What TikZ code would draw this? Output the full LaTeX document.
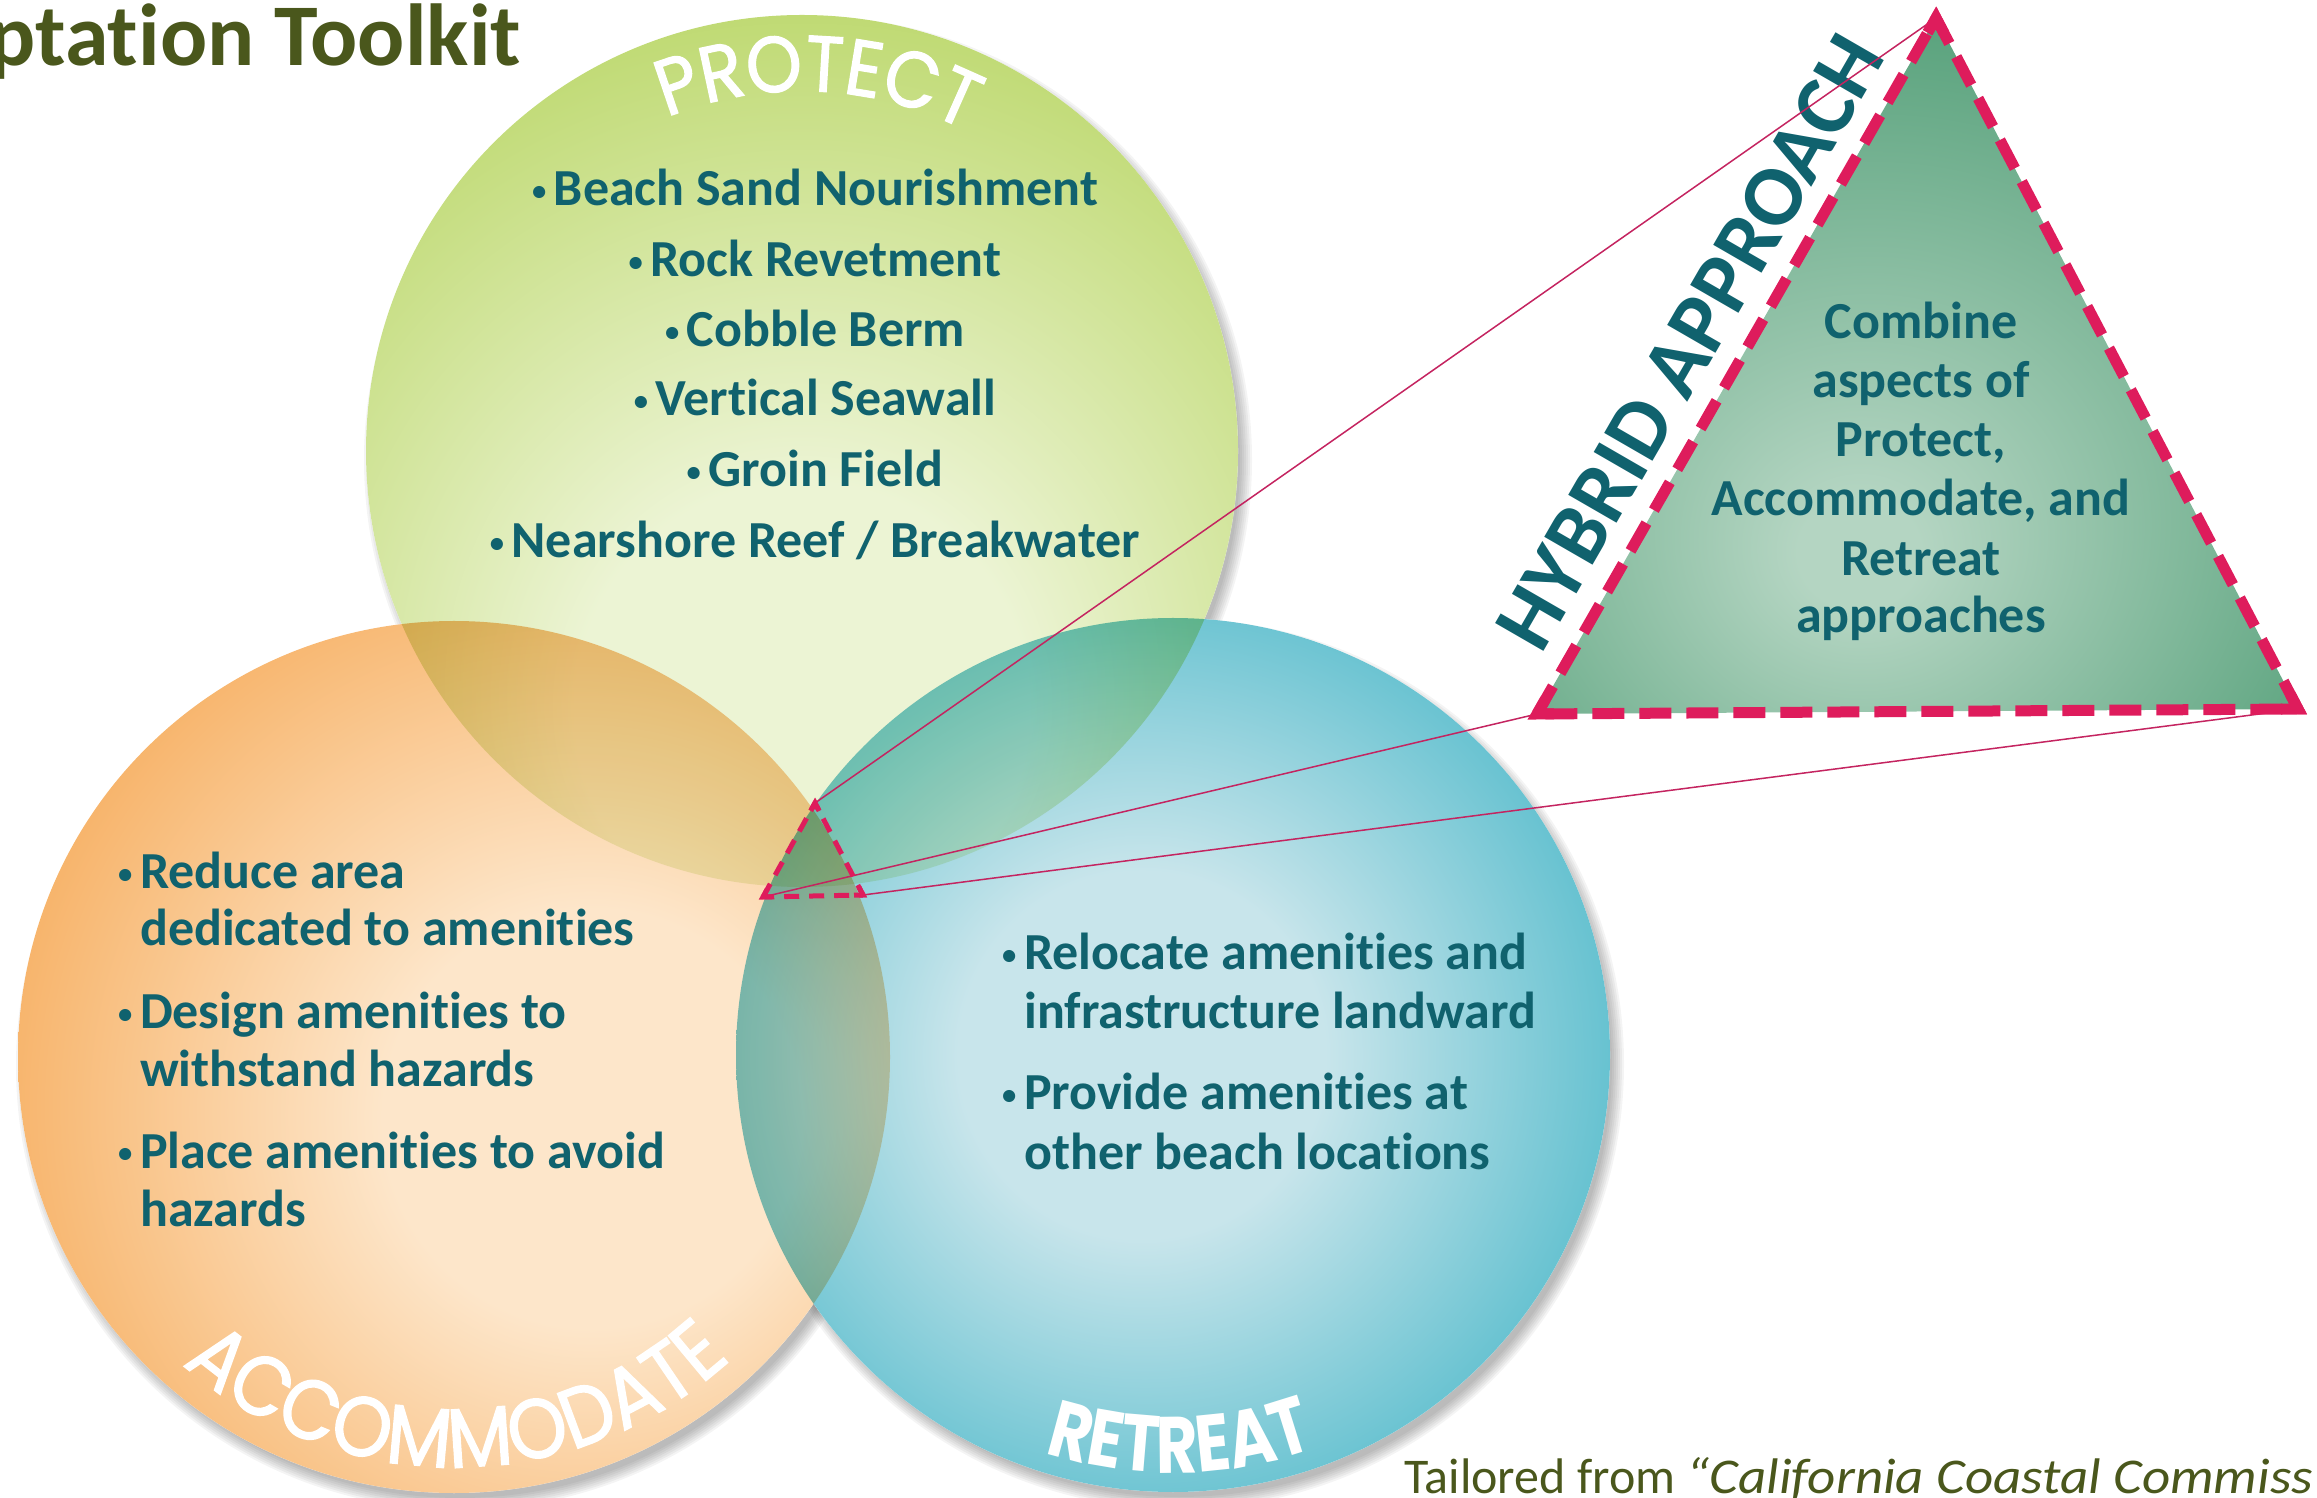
\documentclass[tikz,border=0pt]{standalone}
\usepackage{fontspec}
\setmainfont{Carlito}[Ligatures=NoCommon]
\newfontfamily\labfont{Poppins}[FakeStretch=0.9, FakeBold=1.6]
\newfontfamily\retfont{Poppins}[FakeStretch=0.8]
\usetikzlibrary{calc,decorations.text}

\definecolor{txtTeal}{RGB}{16,98,110}
\definecolor{titleOlive}{RGB}{74,87,28}
\definecolor{gOut}{RGB}{178,210,86}
\definecolor{gIn}{RGB}{236,244,212}
\definecolor{oOut}{RGB}{246,170,88}
\definecolor{oIn}{RGB}{253,230,202}
\definecolor{cOut}{RGB}{64,180,198}
\definecolor{cIn}{RGB}{200,229,235}
\definecolor{tOut}{RGB}{78,156,116}
\definecolor{tIn}{RGB}{180,213,194}
\definecolor{crim}{RGB}{222,28,92}
\definecolor{connC}{RGB}{196,36,96}

% circle edge corresponds to about 35bp in these shadings
\pgfdeclareradialshading{shG}{\pgfpoint{0bp}{-17bp}}{color(0bp)=(gIn); color(13bp)=(gIn); color(43bp)=(gOut); color(100bp)=(gOut)}
\pgfdeclareradialshading{shO}{\pgfpoint{9bp}{-4bp}}{color(0bp)=(oIn); color(12bp)=(oIn); color(36bp)=(oOut); color(100bp)=(oOut)}
\pgfdeclareradialshading{shC}{\pgfpoint{-2bp}{0bp}}{color(0bp)=(cIn); color(10.5bp)=(cIn); color(33bp)=(cOut); color(100bp)=(cOut)}
\pgfdeclareradialshading{shT}{\pgfpoint{-4bp}{-14bp}}{color(0bp)=(tIn); color(4bp)=(tIn); color(38bp)=(tOut); color(100bp)=(tOut)}

\newcommand{\bul}{\makebox[0.42em][l]{\raisebox{0.1em}{\scalebox{0.55}{\textbullet}}}}

\tikzset{
  body/.style={font=\fontsize{52}{60}\selectfont\bfseries, text=txtTeal, inner sep=0pt},
  conn/.style={draw=connC, line width=1.5pt},
  bigdash/.style={draw=crim, line width=11pt, dash pattern=on 32pt off 15pt},
  smalldash/.style={draw=crim, line width=5pt, dash pattern=on 15pt off 10pt},
  bigcorner/.style={draw=crim, line width=11pt, line join=miter, miter limit=10},
  smallcorner/.style={draw=crim, line width=5pt, line join=miter, miter limit=10},
}

\begin{document}
\begin{tikzpicture}[x=1pt,y=1pt]
\useasboundingbox (0,0) rectangle (2317,1497);
\clip (0,0) rectangle (2317,1497);

\coordinate (P) at (802,1046);
\coordinate (A) at (454,440);
\coordinate (R) at (1173,442);

% shadows
\foreach \c/\r in {P/436, A/436, R/437}{
  \foreach \k in {0,...,6}{
    \fill[black, opacity=0.045] ($(\c)+(6,-9)$) circle[radius={\r+8-2*\k}];
  }
}
% white base
\fill[white] (P) circle[radius=436];
\fill[white] (A) circle[radius=436];
\fill[white] (R) circle[radius=437];
% circles, multiplied
\begin{scope}[blend group=multiply]
\shade[shading=shG] (P) circle[radius=436];
\shade[shading=shO] (A) circle[radius=436];
\shade[shading=shC] (R) circle[radius=437];
\end{scope}

% circle labels
\path[decorate, decoration={text along path, text={|\labfont\fontsize{79}{80}\selectfont|PROTECT}, text align=center, text color=white}]
  ($(P)+(135:360)$) arc[start angle=135, end angle=40, radius=360];
\path[decorate, decoration={text along path, text={|\labfont\fontsize{84}{86}\selectfont|ACCOMMODATE}, text align=center, text color=white}]
  ($(A)+(215:410)$) arc[start angle=215, end angle=326, radius=410];
\path[decorate, decoration={text along path, text={|\retfont\bfseries\fontsize{80}{82}\selectfont|RETREAT}, text align=center, text color=white}]
  ($(R)+(236:418)$) arc[start angle=236, end angle=306, radius=418];

% protect items
\node[body, anchor=base] (p1) at (815,1291) {\bul Beach Sand Nourishment};
\node[body, anchor=base] (p2) at (815,1220) {\bul Rock Revetment};
\node[body, anchor=base] (p3) at (815,1150) {\bul Cobble Berm};
\node[body, anchor=base] (p4) at (815,1081) {\bul Vertical Seawall};
\node[body, anchor=base] (p5) at (815,1010) {\bul Groin Field};
\node[body, anchor=base] (p6) at (815,939) {\bul Nearshore Reef / Breakwater};

% accommodate items
\node[body, anchor=base west] (a1) at (118,608) {\bul Reduce area};
\node[body, anchor=base west] (a2) at (140,551) {dedicated to amenities};
\node[body, anchor=base west] (a3) at (118,468) {\bul Design amenities to};
\node[body, anchor=base west] (a4) at (140,410) {withstand hazards};
\node[body, anchor=base west] (a5) at (118,329) {\bul Place amenities to avoid};
\node[body, anchor=base west] (a6) at (140,271) {hazards};

% retreat items
\node[body, anchor=base west] (r1) at (1002,527) {\bul Relocate amenities and};
\node[body, anchor=base west] (r2) at (1024,468) {infrastructure landward};
\node[body, anchor=base west] (r3) at (1002,387) {\bul Provide amenities at};
\node[body, anchor=base west] (r4) at (1024,327) {other beach locations};

% hybrid triangle
\coordinate (st) at (815,694);
\coordinate (sl) at (763,600);
\coordinate (sr) at (863,602);
\coordinate (bt) at (1936,1479);
\coordinate (bl) at (1537,783);
\coordinate (br) at (2298,788);

\shade[shading=shT] (bl) -- (bt) -- (br) -- cycle;

\node[body, anchor=base] (h1) at (1921,1158) {Combine};
\node[body, anchor=base] (h2) at (1921,1099) {aspects of};
\node[body, anchor=base] (h3) at (1921,1040) {Protect,};
\node[body, anchor=base] (h4) at (1921,981) {Accommodate, and};
\node[body, anchor=base] (h5) at (1921,921) {Retreat};
\node[body, anchor=base] (h6) at (1921,864) {approaches};

\node[font=\fontsize{86}{90}\selectfont\bfseries, text=txtTeal, rotate=60, inner sep=0pt] (hyb) at (1690,1155) {HYBRID APPROACH};

% connectors
\draw[conn] (st) -- (bt);
\draw[conn] (sl) -- (bl);
\draw[conn] (sr) -- (br);

% dashed triangles
\draw[bigdash] (bl) -- (bt) -- (br) -- cycle;
\draw[bigcorner] ($(bt)!17pt!(bl)$) -- (bt) -- ($(bt)!17pt!(br)$);
\draw[bigcorner] ($(bl)!17pt!(bt)$) -- (bl) -- ($(bl)!17pt!(br)$);
\draw[bigcorner] ($(br)!17pt!(bt)$) -- (br) -- ($(br)!17pt!(bl)$);

\draw[smalldash] (sl) -- (st) -- (sr) -- cycle;
\draw[smallcorner] ($(st)!9pt!(sl)$) -- (st) -- ($(st)!9pt!(sr)$);
\draw[smallcorner] ($(sl)!9pt!(st)$) -- (sl) -- ($(sl)!9pt!(sr)$);
\draw[smallcorner] ($(sr)!9pt!(st)$) -- (sr) -- ($(sr)!9pt!(sl)$);

% title and source
\node[anchor=base east, font=\fontsize{88}{100}\selectfont\bfseries, text=titleOlive, inner sep=0pt] (title) at (521,1431) {ptation Toolkit};
\node[anchor=base west, font=\fontsize{50}{60}\selectfont, text=titleOlive, inner sep=0pt] (src) at (1404,4) {Tailored from \scalebox{1.1}[1]{\itshape “California Coastal Commiss}};
\end{tikzpicture}
\end{document}
